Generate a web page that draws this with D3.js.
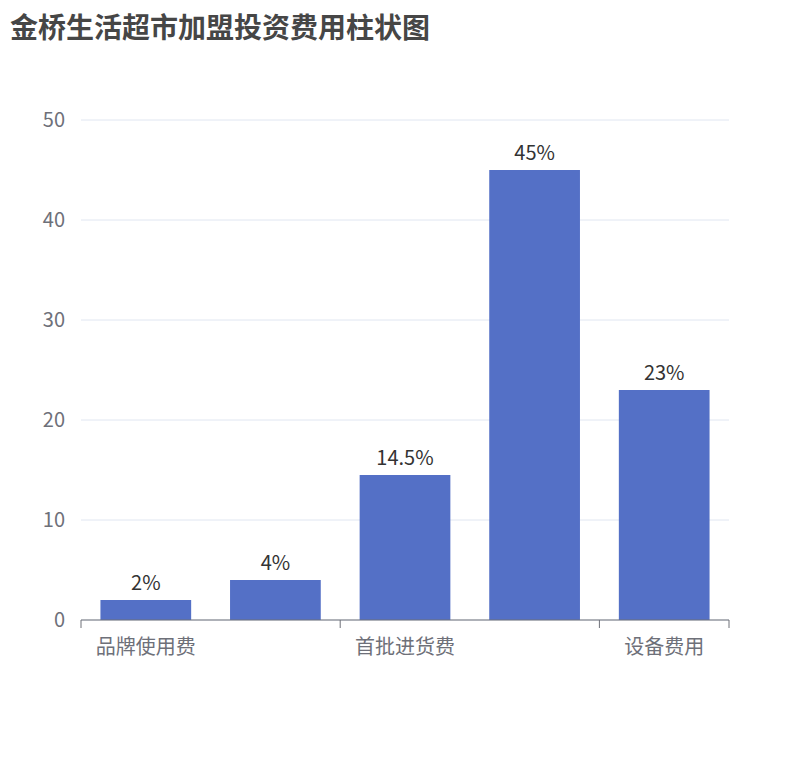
<!DOCTYPE html>
<html><head><meta charset="utf-8">
<script src="https://cdn.jsdelivr.net/npm/d3@7/dist/d3.min.js"></script>
<style>body{margin:0;background:#fff}text{font-family:"Noto Sans CJK SC","Noto Sans",sans-serif}</style>
</head><body><svg id="chart" width="810" height="760"></svg>
<script>
const categories = ['品牌使用费', '店面装修费', '首批进货费', '房租押金', '设备费用'];
const values = [2, 4, 14.5, 45, 23];
const labels = ['2%', '4%', '14.5%', '45%', '23%'];
const yTicks = [0, 10, 20, 30, 40, 50];

const svg = d3.select('#chart');
const m = {left: 81, right: 729, top: 120, bottom: 620};

svg.append('text').attr('x', 10).attr('y', 38)
  .attr('font-size', 28).attr('font-weight', 'bold').attr('fill', '#464646')
  .text('金桥生活超市加盟投资费用柱状图');

const x = d3.scaleBand().domain(categories).range([m.left, m.right]).paddingInner(0.3).paddingOuter(0.15);
const y = d3.scaleLinear().domain([0, 50]).range([m.bottom, m.top]);

svg.append('g').selectAll('line').data(yTicks).join('line')
  .attr('x1', m.left).attr('x2', m.right)
  .attr('y1', d => y(d)).attr('y2', d => y(d))
  .attr('stroke', '#e0e6f1');

svg.append('g').selectAll('text').data(yTicks).join('text')
  .attr('x', m.left - 16).attr('y', d => y(d)).attr('dy', '0.35em')
  .attr('text-anchor', 'end').attr('font-size', 20).attr('fill', '#6e7079')
  .text(d => d);

svg.append('g').selectAll('rect').data(values).join('rect')
  .attr('x', (d, i) => x(categories[i])).attr('width', x.bandwidth())
  .attr('y', d => y(d)).attr('height', d => y(0) - y(d))
  .attr('fill', '#5470c6');

svg.append('g').selectAll('text').data(values).join('text')
  .attr('x', (d, i) => x(categories[i]) + x.bandwidth() / 2)
  .attr('y', d => y(d) - 10)
  .attr('text-anchor', 'middle').attr('font-size', 20).attr('fill', '#333')
  .text((d, i) => labels[i]);

// x axis
const step = (m.right - m.left) / categories.length;
svg.append('line').attr('x1', m.left).attr('x2', m.right)
  .attr('y1', m.bottom).attr('y2', m.bottom).attr('stroke', '#6e7079');
const shown = categories.filter((c, i) => i % 2 === 0);
svg.append('g').selectAll('line').data([0, 2, 4, 5]).join('line')
  .attr('x1', d => m.left + d * step).attr('x2', d => m.left + d * step)
  .attr('y1', m.bottom).attr('y2', m.bottom + 8).attr('stroke', '#6e7079');
svg.append('g').selectAll('text').data(shown).join('text')
  .attr('x', d => x(d) + x.bandwidth() / 2).attr('y', m.bottom + 34)
  .attr('text-anchor', 'middle').attr('font-size', 20).attr('fill', '#6e7079')
  .text(d => d);
</script></body></html>
